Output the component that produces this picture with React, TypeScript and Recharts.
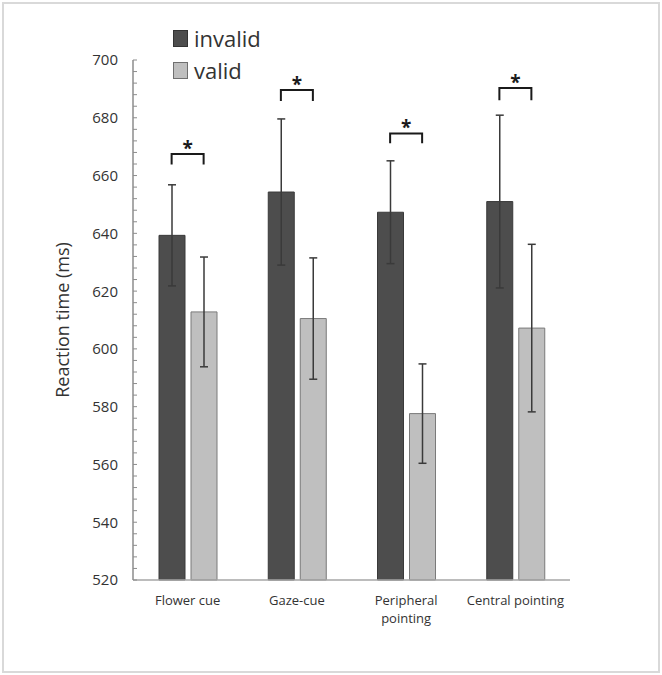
import { BarChart, Bar, XAxis, YAxis, ErrorBar, Legend, ReferenceLine } from "recharts";

const categories = ["Flower cue", "Gaze-cue", "Peripheral pointing", "Central pointing"];
const invalidRT = [639.3, 654.3, 647.3, 651.0];
const validRT = [612.8, 610.5, 577.6, 607.2];
const invalidErr = [17.5, 25.3, 17.8, 29.9];
const validErr = [19.0, 21.0, 17.2, 29.0];
// significance brackets: top of bracket and bottom of its legs (ms)
const bracketTop = [667.5, 689.6, 674.6, 690.3];
const bracketLeg = [663.8, 685.8, 671.2, 686.1];
const yLabels = [520, 540, 560, 580, 600, 620, 640, 660, 680, 700];
const yMinorStep = 4;

const data = categories.map((name, i) => ({
  name,
  invalid: invalidRT[i],
  valid: validRT[i],
  invalidErr: invalidErr[i],
  validErr: validErr[i],
}));

const yTicks: number[] = [];
for (let v = yLabels[0]; v <= yLabels[yLabels.length - 1]; v += yMinorStep) yTicks.push(v);

const FONT = "'Open Sans', sans-serif";
const TEXT = "#333";
const BAR_SIZE = 26;
const BAR_GAP = 6;
const HALF = BAR_SIZE / 2 + BAR_GAP / 2;

const YTick = (props: any) => {
  const { x, y, payload } = props;
  const axisX = x + 15;
  const v = payload.value;
  return (
    <g>
      <line x1={axisX} x2={axisX + 4} y1={y} y2={y} stroke="#8c8c8c" strokeWidth={1} />
      {yLabels.includes(v) && (
        <text x={x} y={y} dy="0.36em" textAnchor="end" fontFamily={FONT} fontSize={15} fill={TEXT}>
          {v}
        </text>
      )}
    </g>
  );
};

// long labels (more than 16 characters) break onto two lines
const XTick = (props: any) => {
  const { x, y, payload } = props;
  const label: string = payload.value;
  const lines = label.length > 16 ? label.split(" ") : [label];
  return (
    <text x={x} y={y} textAnchor="middle" fontFamily={FONT} fontSize={13} fill={TEXT}>
      {lines.map((t, i) => (
        <tspan key={i} x={x} dy={i === 0 ? "0.95em" : 18}>
          {t}
        </tspan>
      ))}
    </text>
  );
};

const Bracket = (props: any) => {
  const { x1, y1, y2 } = props;
  const l = x1 - HALF;
  const r = x1 + HALF;
  return (
    <g>
      <path d={`M${l},${y2} L${l},${y1} L${r},${y1} L${r},${y2}`} fill="none" stroke="#1a1a1a" strokeWidth={2} />
      <text x={x1} y={y1 + 1} textAnchor="middle" fontFamily={FONT} fontWeight="bold" fontSize={19} fill="#1a1a1a">
        *
      </text>
    </g>
  );
};

const LegendBox = () => (
  <div style={{ fontFamily: FONT, fontSize: 22, color: TEXT }}>
    <div style={{ display: "flex", alignItems: "center", height: 32 }}>
      <span style={{ width: 13, height: 15, background: "#4d4d4d", border: "1px solid #333", marginRight: 6 }} />
      invalid
    </div>
    <div style={{ display: "flex", alignItems: "center", height: 32 }}>
      <span style={{ width: 13, height: 15, background: "#bfbfbf", border: "1px solid #6f6f6f", marginRight: 6 }} />
      valid
    </div>
  </div>
);

export default function App() {
  return (
    <div style={{ position: "absolute", left: 0, top: 0, width: 662, height: 675, background: "#fff" }}>
      <div
        style={{
          position: "absolute",
          left: 2,
          top: 2,
          width: 654,
          height: 667,
          border: "2px solid #d9d9d9",
        }}
      />
      <BarChart
        width={662}
        height={675}
        data={data}
        margin={{ top: 60, right: 92, bottom: 35, left: 0 }}
        barSize={BAR_SIZE}
        barGap={BAR_GAP}
        style={{ position: "absolute", left: 0, top: 0 }}
      >
        <XAxis
          dataKey="name"
          height={60}
          axisLine={{ stroke: "#a6a6a6", strokeWidth: 1.5 }}
          tickLine={false}
          tickMargin={7}
          interval={0}
          tick={<XTick />}
        />
        <YAxis
          width={133}
          domain={[520, 700]}
          ticks={yTicks}
          interval={0}
          axisLine={{ stroke: "#8c8c8c", strokeWidth: 1.5 }}
          tickLine={false}
          tickSize={0}
          tickMargin={15}
          tick={<YTick />}
          label={{
            value: "Reaction time (ms)",
            angle: -90,
            position: "center",
            dx: -4,
            style: { fontFamily: FONT, fontSize: 18, fill: TEXT },
          }}
        />
        <Legend
          layout="vertical"
          align="center"
          verticalAlign="middle"
          content={<LegendBox />}
          wrapperStyle={{ position: "absolute", left: 173, top: 22, width: 130, height: 70 }}
        />
        <Bar dataKey="invalid" fill="#4d4d4d" stroke="#3a3a3a" strokeWidth={1} isAnimationActive={false}>
          <ErrorBar dataKey="invalidErr" width={4} stroke="#3a3a3a" strokeWidth={1.5} />
        </Bar>
        <Bar dataKey="valid" fill="#bfbfbf" stroke="#7a7a7a" strokeWidth={1} isAnimationActive={false}>
          <ErrorBar dataKey="validErr" width={4} stroke="#3a3a3a" strokeWidth={1.5} />
        </Bar>
        {categories.map((c, i) => (
          <ReferenceLine
            key={c}
            ifOverflow="visible"
            segment={[
              { x: c, y: bracketTop[i] },
              { x: c, y: bracketLeg[i] },
            ]}
            shape={<Bracket />}
          />
        ))}
      </BarChart>
    </div>
  );
}
